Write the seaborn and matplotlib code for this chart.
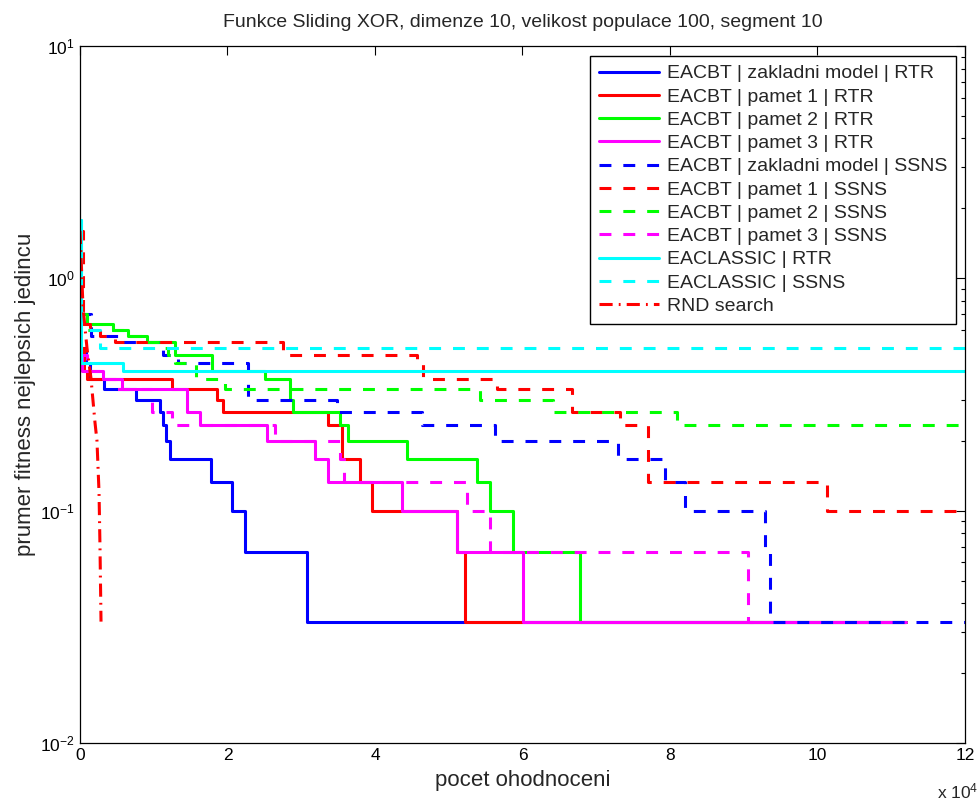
import numpy as np
import pandas as pd
import matplotlib
matplotlib.use("Agg")
import matplotlib.pyplot as plt
import seaborn as sns
from matplotlib.ticker import FixedLocator, LogLocator, NullFormatter

# ---------------- data (x = number of evaluations, y = mean best fitness) ----------------
labels = [
    "EACBT | zakladni model | RTR",
    "EACBT | pamet 1 | RTR",
    "EACBT | pamet 2 | RTR",
    "EACBT | pamet 3 | RTR",
    "EACBT | zakladni model | SSNS",
    "EACBT | pamet 1 | SSNS",
    "EACBT | pamet 2 | SSNS",
    "EACBT | pamet 3 | SSNS",
    "EACLASSIC | RTR",
    "EACLASSIC | SSNS",
    "RND search",
]

bs_x = [0, 800, 1300, 3250, 7600, 10850, 11250, 11650, 12200, 17750, 20600, 22400, 30800, 112000]
bs_y = [0.5, 0.433, 0.367, 0.333, 0.3, 0.267, 0.233, 0.2, 0.167, 0.133, 0.1, 0.0667, 0.0333, 0.0333]

rs_x = [0, 600, 1000, 12470, 18600, 19400, 33630, 35530, 37970, 39590, 51120, 52200, 112000]
rs_y = [0.5, 0.4, 0.367, 0.333, 0.3, 0.267, 0.233, 0.167, 0.133, 0.1, 0.0667, 0.0333, 0.0333]

gs_x = [0, 1000, 4500, 6500, 9100, 12900, 17900, 25100, 28500, 28900, 35300, 36300, 44300,
        53800, 55600, 58700, 67800, 112000]
gs_y = [0.7, 0.633, 0.6, 0.567, 0.533, 0.467, 0.4, 0.367, 0.3, 0.267, 0.233, 0.2, 0.167,
        0.133, 0.1, 0.0667, 0.0333, 0.0333]

ms_x = [0, 300, 3120, 5700, 14500, 16300, 25400, 31900, 33600, 43700, 51100, 60100, 112000]
ms_y = [0.467, 0.4, 0.367, 0.333, 0.267, 0.233, 0.2, 0.167, 0.133, 0.1, 0.0667, 0.0333, 0.0333]

bd_x = [0, 1500, 5500, 11300, 13300, 22800, 34800, 46400, 56300, 72900, 79300, 82000, 92900,
        93600, 120000]
bd_y = [0.7, 0.567, 0.533, 0.467, 0.433, 0.3, 0.267, 0.233, 0.2, 0.167, 0.133, 0.1, 0.0667,
        0.0333, 0.0333]

rd_x = [0, 400, 1400, 2700, 4700, 27500, 45700, 46500, 56500, 66700, 73200, 77000, 101300, 120000]
rd_y = [1.6, 0.633, 0.6, 0.567, 0.533, 0.467, 0.433, 0.367, 0.333, 0.267, 0.233, 0.133, 0.1, 0.1]

gd_x = [0, 1000, 6000, 9000, 10800, 12000, 12900, 15700, 19700, 54200, 64100, 80900, 120000]
gd_y = [0.7, 0.6, 0.567, 0.533, 0.5, 0.467, 0.433, 0.367, 0.333, 0.3, 0.267, 0.233, 0.233]

md_x = [0, 1000, 3000, 5000, 9760, 12500, 26400, 35300, 35800, 52500, 55600, 90600, 91300]
md_y = [0.467, 0.4, 0.367, 0.333, 0.267, 0.233, 0.2, 0.167, 0.133, 0.1, 0.0667, 0.0333, 0.0333]

cs_x = [0, 100, 5800, 120000]
cs_y = [1.78, 0.433, 0.4, 0.4]

cd_x = [0, 100, 2700, 120000]
cd_y = [1.78, 0.6, 0.5, 0.5]

rnd_x = [0, 410, 950, 1490, 2030, 2300, 2580, 2710, 2850]
rnd_y = [1.6, 0.75, 0.5, 0.37, 0.24, 0.2, 0.12, 0.07, 0.0333]

xticks = [0, 2, 4, 6, 8, 10, 12]
xtick_labels = ["0", "2", "4", "6", "8", "10", "12"]

# ---------------- style ----------------
sns.set_style("white")
plt.rcParams["font.family"] = ["Liberation Sans", "DejaVu Sans"]
plt.rcParams["mathtext.default"] = "regular"

fig = plt.figure(figsize=(9.79, 8.02), dpi=100)
ax = fig.add_axes([80 / 979, 1 - 743 / 802, 885 / 979, 697 / 802])

DASH = (0, (3.9, 3.9))
DASHDOT = (0, (4.3, 2.0, 0.6, 2.0))
series = [
    (bs_x, bs_y, "#0000ff", "-", True),
    (rs_x, rs_y, "#ff0000", "-", True),
    (gs_x, gs_y, "#00ff00", "-", True),
    (ms_x, ms_y, "#ff00ff", "-", True),
    (bd_x, bd_y, "#0000ff", DASH, True),
    (rd_x, rd_y, "#ff0000", DASH, True),
    (gd_x, gd_y, "#00ff00", DASH, True),
    (md_x, md_y, "#ff00ff", DASH, True),
    (cs_x, cs_y, "#00ffff", "-", True),
    (cd_x, cd_y, "#00ffff", DASH, True),
    (rnd_x, rnd_y, "#ff0000", DASHDOT, False),
]

handles = []
for (xs, ys, col, ls, step), lab in zip(series, labels):
    df = pd.DataFrame({"x": np.asarray(xs, dtype=float) / 1e4, "y": ys})
    kw = dict(drawstyle="steps-post") if step else {}
    sns.lineplot(data=df, x="x", y="y", ax=ax, color=col, linewidth=2.2,
                 linestyle=ls, estimator=None, sort=False, label=lab, legend=False, **kw)
    handles.append(ax.lines[-1])

ax.set_yscale("log")
ax.set_xlim(0, 12)
ax.set_ylim(0.01, 10)

ax.xaxis.set_major_locator(FixedLocator(xticks))
ax.set_xticklabels(xtick_labels)
ax.yaxis.set_major_locator(LogLocator(base=10, numticks=10))
ax.yaxis.set_minor_locator(LogLocator(base=10, subs=np.arange(2, 10), numticks=50))
ax.yaxis.set_minor_formatter(NullFormatter())

ax.tick_params(which="both", direction="in", top=True, right=True, colors="black",
               labelsize=12.5)
ax.tick_params(which="major", length=6.5, width=0.8)
ax.tick_params(which="minor", length=3, width=0.8)
for sp in ax.spines.values():
    sp.set_color("black")
    sp.set_linewidth(0.9)

ax.set_title("Funkce Sliding XOR, dimenze 10, velikost populace 100, segment 10",
             fontsize=14, pad=14)
ax.set_xlabel("pocet ohodnoceni", fontsize=16, labelpad=5)
ax.set_ylabel("prumer fitness nejlepsich jedincu", fontsize=16, labelpad=3)
fig.text(0.999, 0.004, r"x 10$^{4}$", ha="right", va="baseline", fontsize=12.5)

leg = ax.legend(handles, labels, loc="upper right", bbox_to_anchor=(0.9898, 0.9857),
                frameon=True, fancybox=False, edgecolor="black", framealpha=1,
                fontsize=14, handlelength=3.1, handletextpad=0.4, borderaxespad=0,
                labelspacing=0.29, borderpad=0.45)
leg.get_frame().set_linewidth(1.0)

fig.savefig("out.png", dpi=100)
